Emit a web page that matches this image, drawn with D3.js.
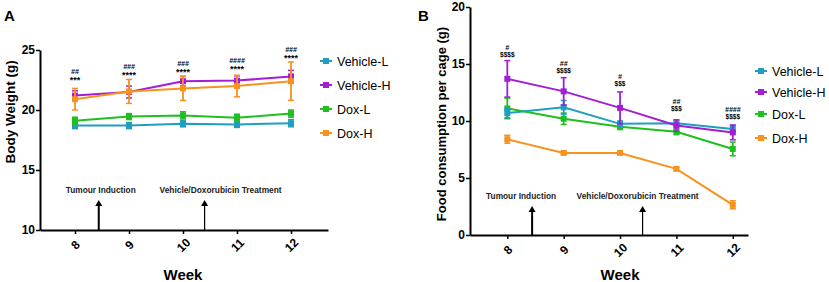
<!DOCTYPE html>
<html>
<head>
<meta charset="utf-8">
<script src="https://cdn.jsdelivr.net/npm/d3@7"></script>
<style>
  body { margin: 0; background: #fff; }
  svg { font-family: "Liberation Sans", Arial, sans-serif; }
  .tick text { font-weight: bold; font-size: 12px; }
  .axis path, .axis line { stroke: #000; }
  .note { font-weight: bold; font-size: 9px; fill: #222; }
  .sig { font-weight: bold; font-style: italic; font-size: 7px; }
</style>
</head>
<body>
<svg width="829" height="282"></svg>
<script>
// **** data ****
var weeks = [8, 9, 10, 11, 12];
var groups = ['Vehicle-L', 'Vehicle-H', 'Dox-L', 'Dox-H'];
var colors = ['#1f9ec0', '#a21ed6', '#1fbf1f', '#f7921e'];

// body weight (g), panel A
var bwVehL = [18.7, 18.7, 18.85, 18.8, 18.9];
var bwVehH = [21.2, 21.5, 22.4, 22.45, 22.8];
var bwDoxL = [19.1, 19.45, 19.55, 19.35, 19.7];
var bwDoxH = [20.9, 21.55, 21.8, 22.0, 22.4];
var bwErrVehL = [0.25, 0.25, 0.25, 0.25, 0.3];
var bwErrVehH = [0.4, 0.5, 0.4, 0.4, 0.5];
var bwErrDoxL = [0.3, 0.25, 0.3, 0.3, 0.3];
var bwErrDoxH = [0.9, 1.0, 1.0, 0.9, 1.6];
var bwSigTop = ['##', '###', '###', '####', '###'];
var bwSigBottom = ['***', '****', '****', '****', '****'];

// food consumption per cage (g), panel B
var fcVehL = [10.7, 11.2, 9.75, 9.8, 9.3];
var fcVehH = [13.7, 12.6, 11.15, 9.6, 9.0];
var fcDoxL = [11.1, 10.2, 9.5, 9.05, 7.55];
var fcDoxH = [8.4, 7.2, 7.2, 5.8, 2.65];
var fcErrVehL = [0.4, 0.6, 0.25, 0.3, 0.3];
var fcErrVehH = [1.6, 1.2, 1.4, 0.5, 0.65];
var fcErrDoxL = [0.9, 0.5, 0.25, 0.25, 0.6];
var fcErrDoxH = [0.35, 0.12, 0.12, 0.12, 0.35];
var fcSigTop = ['#', '##', '#', '##', '####'];
var fcSigBottom = ['$$$$', '$$$$', '$$$', '$$$', '$$$$'];

var bwTicks = [10, 15, 20, 25];
var fcTicks = [0, 5, 10, 15, 20];
var arrowWeeks = [8.44, 10.4];
var arrowLabels = ['Tumour Induction', 'Vehicle/Doxorubicin Treatment'];
var arrowLabelWidths = [70, 122];

var svg = d3.select('svg');

function drawPanel(opt) {
    var g = svg.append('g');
    var x = d3.scaleLinear().domain(opt.xDomain).range(opt.xRange);
    var y = d3.scaleLinear().domain(opt.yDomain).range(opt.yRange);

    // axes
    g.append('g').attr('class', 'axis')
        .attr('transform', 'translate(0,' + opt.yRange[0] + ')')
        .call(d3.axisBottom(x).tickValues(weeks).tickSize(4).tickSizeOuter(0).tickFormat(d3.format('d')))
        .call(function(a) {
            a.select('.domain').attr('stroke-width', 2);
            a.selectAll('.tick line').attr('stroke-width', 1.5);
            a.selectAll('.tick text')
                .attr('y', 0).attr('dy', '0.35em')
                .attr('text-anchor', 'middle')
                .attr('transform', 'translate(0,' + opt.tickDy + ') rotate(-45)');
        });

    g.append('g').attr('class', 'axis')
        .attr('transform', 'translate(' + opt.xRange[0] + ',0)')
        .call(d3.axisLeft(y).tickValues(opt.yTicks).tickSize(4).tickSizeOuter(0))
        .call(function(a) {
            a.select('.domain').attr('stroke-width', 2);
            a.selectAll('.tick line').attr('stroke-width', 1.5);
            a.selectAll('.tick text').attr('x', -5);
        });

    g.append('text').text('Week')
        .attr('x', x(10)).attr('y', 280)
        .attr('text-anchor', 'middle')
        .style('font-weight', 'bold').style('font-size', '15px');

    g.append('text').text(opt.yLabel)
        .attr('text-anchor', 'middle')
        .attr('transform', 'translate(' + opt.yLabelX + ',' + opt.yLabelY + ') rotate(-90)')
        .style('font-weight', 'bold').style('font-size', opt.yLabelSize);

    g.append('text').text(opt.letter)
        .attr('x', opt.letterX).attr('y', 21)
        .style('font-weight', 'bold').style('font-size', '15px');

    // arrows
    arrowWeeks.forEach(function(w, i) {
        var ax = x(w);
        g.append('line')
            .attr('x1', ax).attr('x2', ax)
            .attr('y1', opt.yRange[0]).attr('y2', opt.arrowTop + 4)
            .attr('stroke', '#000').attr('stroke-width', i === 0 ? 2 : 1.2);
        g.append('path')
            .attr('d', 'M' + (ax - 3.5) + ',' + (opt.arrowTop + 6) + 'L' + ax + ',' + opt.arrowTop + 'L' + (ax + 3.5) + ',' + (opt.arrowTop + 6) + 'Z')
            .attr('fill', '#000');
        g.append('text').attr('class', 'note').text(arrowLabels[i])
            .attr('x', ax + opt.noteShift[i] - arrowLabelWidths[i] / 2).attr('y', opt.noteY)
            .attr('textLength', arrowLabelWidths[i])
            .attr('lengthAdjust', 'spacingAndGlyphs');
    });

    var line = d3.line().x(function(d, i) { return x(weeks[i]); }).y(function(d) { return y(d); });

    opt.series.forEach(function(s) {
        var c = colors[s.idx];
        var sg = g.append('g');
        sg.append('path').datum(s.values)
            .attr('d', line).attr('fill', 'none')
            .attr('stroke', c).attr('stroke-width', 2);
        s.values.forEach(function(v, i) {
            var cx = x(weeks[i]), e = s.err[i];
            sg.append('line')
                .attr('x1', cx).attr('x2', cx)
                .attr('y1', y(v - e)).attr('y2', y(v + e))
                .attr('stroke', c).attr('stroke-width', 1.8);
            [v - e, v + e].forEach(function(ev) {
                sg.append('line')
                    .attr('x1', cx - 3).attr('x2', cx + 3)
                    .attr('y1', y(ev)).attr('y2', y(ev))
                    .attr('stroke', c).attr('stroke-width', 1.5);
            });
            sg.append('rect')
                .attr('x', cx - 3).attr('y', y(v) - 3)
                .attr('width', 6).attr('height', 6)
                .attr('fill', c);
        });
    });

    // significance marks
    weeks.forEach(function(w, i) {
        g.append('text').attr('class', 'sig').text(opt.sigTop[i])
            .attr('x', x(w)).attr('y', opt.sigY[i] - 6)
            .attr('text-anchor', 'middle');
        g.append('text').attr('class', 'sig').text(opt.sigBottom[i])
            .attr('x', x(w)).attr('y', opt.sigY[i] + (opt.sigBottom[i][0] === '*' ? 3 : 1))
            .attr('text-anchor', 'middle')
            .style('font-style', 'normal')
            .style('font-size', opt.sigBottom[i][0] === '*' ? '9px' : '6.5px');
    });

    // legend
    groups.forEach(function(name, i) {
        var ly = opt.legendY[i];
        var lg = g.append('g').attr('transform', 'translate(' + opt.legendX + ',' + ly + ')');
        lg.append('line').attr('x1', -6).attr('x2', 6)
            .attr('stroke', colors[i]).attr('stroke-width', 2);
        lg.append('rect').attr('x', -3).attr('y', -3).attr('width', 6).attr('height', 6)
            .attr('fill', colors[i]);
        lg.append('text').text(name)
            .attr('x', 11).attr('y', 4.5)
            .style('font-size', '12.5px');
    });
}

drawPanel({
    letter: 'A', letterX: 4,
    xDomain: [7.352, 12.685], xRange: [40, 328],
    yDomain: [10, 25], yRange: [230, 50], yTicks: bwTicks,
    tickDy: 15,
    yLabel: 'Body Weight (g)', yLabelX: 15, yLabelY: 112, yLabelSize: '13.5px',
    arrowTop: 200, noteY: 193, noteShift: [2, 16],
    series: [
        { idx: 0, values: bwVehL, err: bwErrVehL },
        { idx: 2, values: bwDoxL, err: bwErrDoxL },
        { idx: 1, values: bwVehH, err: bwErrVehH },
        { idx: 3, values: bwDoxH, err: bwErrDoxH }
    ],
    sigTop: bwSigTop, sigBottom: bwSigBottom,
    sigY: [80, 75, 72, 69, 58],
    legendX: 326, legendY: [61, 85, 109, 133]
});

drawPanel({
    letter: 'B', letterX: 418,
    xDomain: [7.338, 12.27], xRange: [470, 748],
    yDomain: [0, 20], yRange: [235, 7], yTicks: fcTicks,
    tickDy: 15,
    yLabel: 'Food consumption per cage (g)', yLabelX: 446, yLabelY: 124, yLabelSize: '13px',
    arrowTop: 206, noteY: 199, noteShift: [-11, -5],
    series: [
        { idx: 3, values: fcDoxH, err: fcErrDoxH },
        { idx: 2, values: fcDoxL, err: fcErrDoxL },
        { idx: 0, values: fcVehL, err: fcErrVehL },
        { idx: 1, values: fcVehH, err: fcErrVehH }
    ],
    sigTop: fcSigTop, sigBottom: fcSigBottom,
    sigY: [56, 72, 85, 110, 118],
    legendX: 761, legendY: [71, 92, 114, 138]
});
</script>
</body>
</html>
